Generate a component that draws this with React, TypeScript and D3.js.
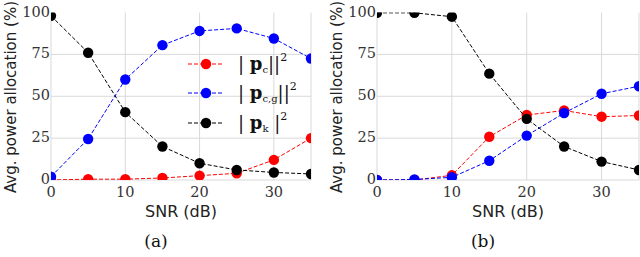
import React from "react";
import * as d3 from "d3";

const snr = [0, 5, 10, 15, 20, 25, 30, 35];
const aPc = [0, 0.5, 0.5, 1.2, 2.6, 4, 12, 25];
const aPcg = [2, 24.5, 60, 80.5, 89, 90.5, 84.5, 72.5];
const aPk = [98, 76, 40.5, 20, 10, 6, 4.5, 3.6];
const bPc = [0, 0, 2.8, 25.8, 38.8, 41.5, 37.8, 38.5];
const bPcg = [0, 0.3, 1.6, 11.5, 26.5, 40, 51.5, 56];
const bPk = [99.8, 99.8, 97.5, 63.5, 36.5, 20, 11, 6];
const xTicks = [0, 10, 20, 30];
const yTicks = [0, 25, 50, 75, 100];
const panelLabels = ["(a)", "(b)"];

const colors = { pc: "#ff0000", pcg: "#0000ff", pk: "#000000" };

type Panel = { x0: number; x1: number; data: { key: string; vals: number[] }[]; label: string; legend: boolean };

const top = 12.5, bottom = 180;

function PanelView({ p, idx }: { p: Panel; idx: number }) {
  const x = d3.scaleLinear().domain([0, 35]).range([p.x0, p.x1]);
  const y = d3.scaleLinear().domain([0, 100]).range([bottom, top]);
  const line = d3.line<number>().x((_, i) => x(snr[i])).y((d) => y(d));
  const clipId = `clip${idx}`;
  return (
    <g>
      <defs>
        <clipPath id={clipId}>
          <rect x={p.x0} y={top} width={p.x1 - p.x0} height={bottom - top} />
        </clipPath>
      </defs>
      {xTicks.map((t) => (
        <line key={"gx" + t} x1={x(t)} x2={x(t)} y1={top} y2={bottom} stroke="#d9d9d9" strokeWidth={1} />
      ))}
      <line x1={x(35)} x2={x(35)} y1={top} y2={bottom} stroke="#d9d9d9" strokeWidth={1} />
      {yTicks.filter((t) => t < 100).map((t) => (
        <line key={"gy" + t} x1={p.x0} x2={p.x1} y1={y(t)} y2={y(t)} stroke="#d9d9d9" strokeWidth={1} />
      ))}
      {xTicks.map((t) => (
        <text key={"tx" + t} x={x(t)} y={bottom + 17} textAnchor="middle" fontFamily="'DejaVu Serif', serif" fontSize={14.5} fill="#333">{t}</text>
      ))}
      {yTicks.map((t) => (
        <text key={"ty" + t} x={p.x0 - 1} y={y(t) + 4} textAnchor="end" fontFamily="'DejaVu Serif', serif" fontSize={14.5} fill="#333">{t}</text>
      ))}
      <text x={(p.x0 + p.x1) / 2} y={bottom + 37} textAnchor="middle" fontFamily="'DejaVu Sans', sans-serif" fontSize={16} fill="#222">SNR (dB)</text>
      <text transform={`translate(${p.x0 - 35},97) rotate(-90)`} textAnchor="middle" fontFamily="'DejaVu Sans', sans-serif" fontSize={15} fill="#222">Avg. power allocation (%)</text>
      <g clipPath={`url(#${clipId})`}>
        {p.data.map((s) => (
          <g key={s.key}>
            <path d={line(s.vals) || ""} fill="none" stroke={(colors as any)[s.key]} strokeWidth={1} strokeDasharray="4,2" />
            {s.vals.map((v, i) => (
              <circle key={i} cx={x(snr[i])} cy={y(v)} r={5.2} fill={(colors as any)[s.key]} />
            ))}
          </g>
        ))}
      </g>
      <text x={(p.x0 + p.x1) / 2 - 25} y={247} textAnchor="middle" fontFamily="'DejaVu Serif', serif" fontSize={17} fill="#111">{p.label}</text>
    </g>
  );
}

function Legend() {
  const rows = [
    { key: "pc", sub: "c", tail: "||" },
    { key: "pcg", sub: "c,g", tail: "||" },
    { key: "pk", sub: "k", tail: " |" },
  ];
  const ys = [64, 93, 123];
  return (
    <g>
      {rows.map((r, i) => (
        <g key={r.key}>
          <line x1={188} x2={224} y1={ys[i]} y2={ys[i]} stroke={(colors as any)[r.key]} strokeWidth={1} strokeDasharray="4,2" />
          <circle cx={206} cy={ys[i]} r={5.2} fill={(colors as any)[r.key]} />
          <text x={238} y={ys[i] + 6} fontFamily="'DejaVu Serif', serif" fontSize={18} fill="#111">
            <tspan>| </tspan>
            <tspan fontWeight="bold">p</tspan>
            <tspan fontSize={10} dy={3}>{r.sub}</tspan>
            <tspan dy={-3}>{r.tail}</tspan>
            <tspan fontSize={11} dy={-9}>2</tspan>
          </text>
        </g>
      ))}
    </g>
  );
}

export default function App() {
  const panels: Panel[] = [
    { x0: 51, x1: 311, label: panelLabels[0], legend: true, data: [
      { key: "pc", vals: aPc }, { key: "pcg", vals: aPcg }, { key: "pk", vals: aPk } ] },
    { x0: 377, x1: 639, label: panelLabels[1], legend: false, data: [
      { key: "pc", vals: bPc }, { key: "pcg", vals: bPcg }, { key: "pk", vals: bPk } ] },
  ];
  return (
    <svg width={640} height={257} style={{ position: "absolute", left: 0, top: 0, background: "#fff" }}>
      <rect width={640} height={257} fill="#fff" />
      {panels.map((p, i) => <PanelView key={i} p={p} idx={i} />)}
      <Legend />
    </svg>
  );
}
